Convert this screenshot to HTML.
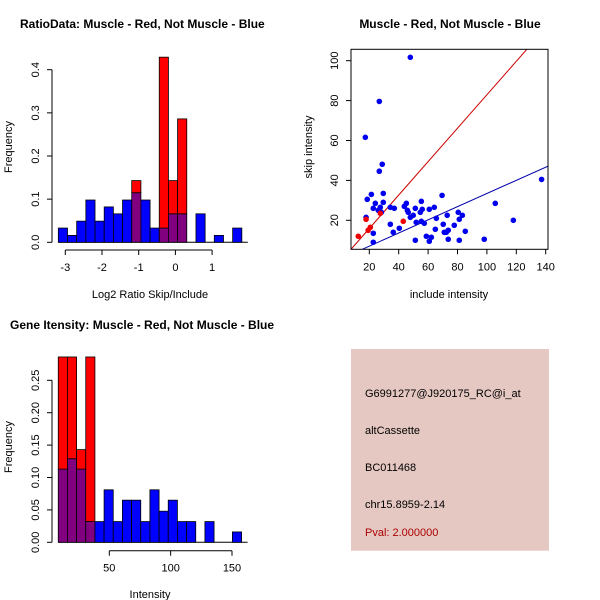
<!DOCTYPE html>
<html><head><meta charset="utf-8"><style>body{margin:0;background:#fff}svg{display:block}text{font-family:"Liberation Sans",sans-serif}</style></head>
<body>
<svg id="c" width="600" height="600" xmlns="http://www.w3.org/2000/svg"></svg>
<script>
// ---- Data ----
const ratioBlue = [0.033,0.016,0.049,0.098,0.049,0.082,0.066,0.098,0.115,0.098,0.033,0.033,0.066,0.066,0,0.066,0,0.016,0,0.033];
const ratioRed  = [0,0,0,0,0,0,0,0,0.143,0,0,0.429,0.143,0.286,0,0,0,0,0,0];
const ratioStart = -3.19, ratioBinW = 0.25;
const ratioXTicks = [-3,-2,-1,0,1];
const ratioYTicks = [0,0.1,0.2,0.3,0.4];
const intBlue = [0.113,0.129,0.113,0.032,0.032,0.081,0.032,0.065,0.065,0.032,0.081,0.048,0.065,0.032,0.032,0,0.032,0,0,0.016];
const intRed  = [0.286,0.286,0.143,0.286,0,0,0,0,0,0,0,0,0,0,0,0,0,0,0,0];
const intStart = 8.4, intBinW = 7.47;
const intXTicks = [50,100,150];
const intYTicks = [0,0.05,0.10,0.15,0.20,0.25];
const scBlueX = [47.9,26.8,17.3,28.8,26.8,29.5,21.4,18.6,24.1,29.5,17.8,22.7,26.1,27.5,28.2,34.3,37,34.3,36.3,22.7,22.7,40.4,43.8,45.2,45.9,46.5,47.9,49.9,51.3,51.9,51.3,54.7,55.4,56,55.4,57.4,58.8,60.8,62.2,60.8,64.2,64.9,65.6,69.5,70.3,71,72.4,73.7,73,73.7,77.8,80.5,81.2,81.2,83.3,85.3,98.2,105.7,118,137.2];
const scBlueY = [101.7,79.6,61.6,48.1,44.6,33.5,33,30.5,28.5,29,21.5,26,25,26.5,24,26.5,26,18,14,13.5,9,16,27,28.5,25,24,21.5,22.5,26,19,10,24,29.5,25.5,19.5,18.5,12,9.5,11.5,25.5,26.5,15.5,21,32.5,18,14,14,15,22.5,10.5,17.5,24,20.5,10,22.5,14.5,10.5,28.5,20,40.5];
const scRedX = [12.5,17.8,19.2,20.7,27.5,43.1];
const scRedY = [12,20.5,15,16.5,23.5,19.5];
const scXTicks = [20,40,60,80,100,120,140];
const scYTicks = [20,40,60,80,100];
const redFit = [-0.87,0.838];   // intercept, slope
const blueFit = [0.43,0.33];
const infoLines = ["G6991277@J920175_RC@i_at","altCassette","BC011468","chr15.8959-2.14"];
const pval = "Pval: 2.000000";

const svg = document.getElementById('c');
const NS = 'http://www.w3.org/2000/svg';
function mk(tag, attrs, parent){ const e=document.createElementNS(NS,tag); for(const k in attrs) e.setAttribute(k,attrs[k]); (parent||svg).appendChild(e); return e; }
function txt(x,y,s,size,opts){ const t=mk('text',Object.assign({x:x,y:y,'font-size':size,'text-anchor':'middle',fill:'#000'},opts||{})); t.textContent=s; return t; }
function fmt(v,d){ return v.toFixed(d); }

// ---- Histogram ----
function hist(name, blue, red, start, bw, xs, ys, xt, yt, ydec, yAxisX, xAxisY, xAxisRange){
  const g = mk('g',{});
  
  
  mk('line',{x1:xs(start),x2:xs(start+blue.length*bw)+6,y1:ys(0),y2:ys(0),stroke:'#000'},g);
  for(let i=0;i<blue.length;i++){
    const x0=xs(start+i*bw), x1=xs(start+(i+1)*bw);
    const b=blue[i], r=red[i];
    const parts=[];
    if(r>0 && b>0){ const lo=Math.min(r,b), hi=Math.max(r,b); parts.push([0,lo,'#800080']); parts.push([lo,hi,r>b?'#ff0000':'#0000ff']); }
    else if(r>0) parts.push([0,r,'#ff0000']);
    else if(b>0) parts.push([0,b,'#0000ff']);
    parts.forEach(p=>{
      const rc=mk('rect',{x:x0,y:ys(p[1]),width:x1-x0,height:ys(p[0])-ys(p[1]),fill:p[2],stroke:'#000','stroke-width':0.8},g);
      
      
    });
  }
  mk('line',{x1:yAxisX,x2:yAxisX,y1:ys(yt[0]),y2:ys(yt[yt.length-1]),stroke:'#000'},g);
  yt.forEach(v=>{ mk('line',{x1:yAxisX-5,x2:yAxisX,y1:ys(v),y2:ys(v),stroke:'#000'},g);
    const t=txt(0,0,fmt(v,ydec),11,{transform:`translate(${yAxisX-13},${ys(v)}) rotate(-90)`});   });
  mk('line',{x1:xs(xAxisRange[0]),x2:xs(xAxisRange[1]),y1:xAxisY,y2:xAxisY,stroke:'#000'},g);
  xt.forEach(v=>{ mk('line',{x1:xs(v),x2:xs(v),y1:xAxisY,y2:xAxisY+5,stroke:'#000'},g);
    const t=txt(xs(v),xAxisY+21,String(v),11);   });
}

// Top-left
{
  const xs=v=>65.3+(v+3)*36.7, ys=v=>242.3-v*431.5;
  hist('ratio-histogram',ratioBlue,ratioRed,ratioStart,ratioBinW,xs,ys,ratioXTicks,ratioYTicks,1,52,250,[-3,1]);
  const t=txt(20,28,'RatioData: Muscle - Red, Not Muscle - Blue',12,{'font-weight':'bold','text-anchor':'start'});  
  const xl=txt(150,298,'Log2 Ratio Skip/Include',11);  
  const yl=txt(0,0,'Frequency',11,{transform:'translate(12,147) rotate(-90)'});  
}
// Bottom-left
{
  const xs=v=>109.3+(v-50)*1.227, ys=v=>542.3-v*648;
  hist('intensity-histogram',intBlue,intRed,intStart,intBinW,xs,ys,intXTicks,intYTicks,2,52,550.7,[50,150]);
  const t=txt(10,329,'Gene Itensity: Muscle - Red, Not Muscle - Blue',12,{'font-weight':'bold','text-anchor':'start'});  
  const xl=txt(150,598,'Intensity',11);  
  const yl=txt(0,0,'Frequency',11,{transform:'translate(12,447) rotate(-90)'});  
}
// Scatter
{
  const L=351,R=548,T=49.3,B=249.3;
  const xs=v=>369.3+(v-20)*1.47, ys=v=>220.3-(v-20)*1.995;
  const g=mk('g',{});  
  const cp=mk('clipPath',{id:'scclip'},g); mk('rect',{x:L,y:T,width:R-L,height:B-T},cp);
  const lg=mk('g',{'clip-path':'url(#scclip)'},g);
  [[redFit,'#cc0000','red-fit-line'],[blueFit,'#0000aa','blue-fit-line']].forEach(f=>{
    const ln=mk('line',{x1:xs(0),y1:ys(f[0][0]),x2:xs(160),y2:ys(f[0][0]+f[0][1]*160),stroke:f[1],'stroke-width':1},lg);
     
  });
  scBlueX.forEach((x,i)=>{ const c=mk('circle',{cx:xs(x),cy:ys(scBlueY[i]),r:2.8,fill:'#0000ee'},g);   });
  scRedX.forEach((x,i)=>{ const c=mk('circle',{cx:xs(x),cy:ys(scRedY[i]),r:2.8,fill:'#ee0000'},g);   });
  mk('rect',{x:L,y:T,width:R-L,height:B-T,fill:'none',stroke:'#000'},g);
  scXTicks.forEach(v=>{ mk('line',{x1:xs(v),x2:xs(v),y1:B,y2:B+5,stroke:'#000'},g); const t=txt(xs(v),B+21,String(v),11);   });
  scYTicks.forEach(v=>{ mk('line',{x1:L-5,x2:L,y1:ys(v),y2:ys(v),stroke:'#000'},g); const t=txt(0,0,String(v),11,{transform:`translate(${L-13},${ys(v)}) rotate(-90)`});   });
  const t=txt(450,28,'Muscle - Red, Not Muscle - Blue',12,{'font-weight':'bold'});  
  const xl=txt(449,298,'include intensity',11);  
  const yl=txt(0,0,'skip intensity',11,{transform:'translate(312,147) rotate(-90)'});  
}
// Info panel
{
  const g=mk('g',{});  
  mk('rect',{x:351,y:349,width:198,height:201.7,fill:'#e6c8c2'},g);
  const ys=[397,434,471,508];
  infoLines.forEach((s,i)=>{ const t=txt(365,ys[i],s,11,{'text-anchor':'start'});   });
  const p=txt(365,536,pval,11,{'text-anchor':'start',fill:'#aa0000'});  
}
</script>
</body></html>
